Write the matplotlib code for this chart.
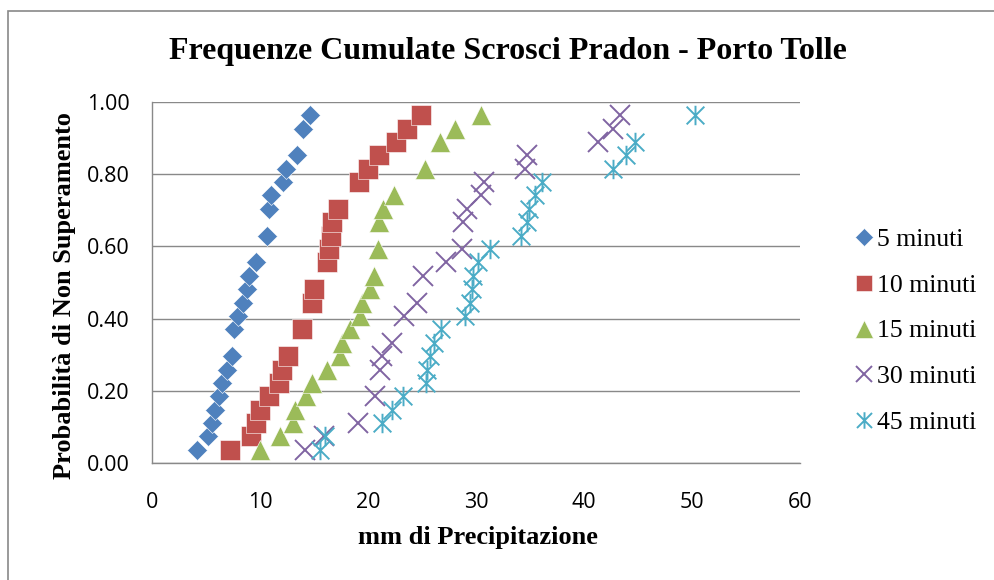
import matplotlib
matplotlib.use("Agg")
import matplotlib.pyplot as plt
from matplotlib.path import Path
from matplotlib.patches import Rectangle

# cumulative frequency of rain bursts, one list pair per duration
x_5min = [4.2, 5.2, 5.6, 5.8, 6.2, 6.5, 6.9, 7.4, 7.6, 8.0, 8.4, 8.8, 9.0, 9.6,
          10.65, 10.8, 11.0, 12.1, 12.4, 13.4, 14.0, 14.66]
y_5min = [0.037, 0.074, 0.111, 0.148, 0.185, 0.222, 0.259, 0.296, 0.370, 0.407,
          0.444, 0.481, 0.519, 0.556, 0.630, 0.704, 0.741, 0.778, 0.815, 0.852,
          0.926, 0.963]

x_10min = [7.2, 9.2, 9.6, 10.0, 10.8, 11.8, 12.0, 12.6, 13.9, 14.85, 15.0, 16.2,
           16.4, 16.6, 16.7, 17.25, 19.2, 20.0, 21.05, 22.6, 23.6, 24.9]
y_10min = [0.037, 0.074, 0.111, 0.148, 0.185, 0.222, 0.259, 0.296, 0.370, 0.444,
           0.481, 0.556, 0.593, 0.630, 0.667, 0.704, 0.778, 0.815, 0.852, 0.889,
           0.926, 0.963]

x_15min = [10.0, 11.85, 13.1, 13.2, 14.3, 14.85, 16.2, 17.4, 17.6, 18.3, 19.3, 19.4,
           20.2, 20.6, 20.9, 21.05, 21.4, 22.4, 25.3, 26.7, 28.05, 30.5]
y_15min = [0.037, 0.074, 0.111, 0.148, 0.185, 0.222, 0.259, 0.296, 0.333, 0.370,
           0.407, 0.444, 0.481, 0.519, 0.593, 0.667, 0.704, 0.741, 0.815, 0.889,
           0.926, 0.963]

x_30min = [14.2, 15.9, 19.1, 20.65, 21.1, 21.3, 22.2, 23.3, 24.5, 25.1, 27.2, 28.7,
           28.8, 29.2, 30.5, 30.7, 34.5, 34.7, 41.3, 42.7, 43.3]
y_30min = [0.037, 0.074, 0.111, 0.185, 0.259, 0.296, 0.333, 0.407, 0.444, 0.519,
           0.556, 0.593, 0.667, 0.704, 0.741, 0.778, 0.815, 0.852, 0.889, 0.926,
           0.963]

x_45min = [15.6, 16.0, 21.3, 22.2, 23.2, 25.4, 25.5, 25.7, 26.1, 26.8, 29.0, 29.4,
           29.6, 29.75, 30.2, 31.3, 34.2, 34.7, 34.9, 35.5, 36.1, 42.7, 43.9, 44.7,
           50.3]
y_45min = [0.037, 0.074, 0.111, 0.148, 0.185, 0.222, 0.259, 0.296, 0.333, 0.370,
           0.407, 0.444, 0.481, 0.519, 0.556, 0.593, 0.630, 0.667, 0.704, 0.741,
           0.778, 0.815, 0.852, 0.889, 0.963]

labels = ["5 minuti", "10 minuti", "15 minuti", "30 minuti", "45 minuti"]
colors = ["#4F81BD", "#C0504D", "#9BBB59", "#8064A2", "#4BACC6"]

# x with a vertical stroke, like the spreadsheet "star" marker
star = Path([(-0.5, -0.5), (0.5, 0.5), (-0.5, 0.5), (0.5, -0.5), (0, -0.55), (0, 0.55)],
            [Path.MOVETO, Path.LINETO, Path.MOVETO, Path.LINETO, Path.MOVETO, Path.LINETO])

grey = "#898989"
serif = "Liberation Serif"
sans = "Open Sans"

fig = plt.figure(figsize=(9.94, 5.8), dpi=100)
ax = fig.add_axes([152 / 994, 1 - 463 / 580, 648 / 994, 361 / 580])

ax.plot(x_5min, y_5min, linestyle="none", marker="D", ms=10.3,
        color=colors[0], mec="white", mew=0.4, label=labels[0])
ax.plot(x_10min, y_10min, linestyle="none", marker="s", ms=14,
        color=colors[1], mec="white", mew=0.4, label=labels[1])
ax.plot(x_15min, y_15min, linestyle="none", marker="^", ms=14.5,
        color=colors[2], mec="white", mew=0.4, label=labels[2])
ax.plot(x_30min, y_30min, linestyle="none", marker="x", ms=14,
        color=colors[3], mew=1.4, label=labels[3])
ax.plot(x_45min, y_45min, linestyle="none", marker=star, ms=14,
        mfc="none", mec=colors[4], mew=1.4, label=labels[4])

ax.set_xlim(0, 60)
ax.set_ylim(0, 1)
ax.set_xticks(range(0, 61, 10))
ax.set_yticks([0, 0.2, 0.4, 0.6, 0.8, 1.0])
ax.set_yticklabels(["0.00", "0.20", "0.40", "0.60", "0.80", "1.00"])
ax.tick_params(axis="both", length=0, labelsize=15.5)
ax.tick_params(axis="y", pad=16)
ax.tick_params(axis="x", pad=21)
for lab in ax.get_xticklabels() + ax.get_yticklabels():
    lab.set_fontfamily(sans)

ax.grid(axis="y", color=grey, linewidth=1.0)
ax.set_axisbelow(True)
for side in ["top", "right"]:
    ax.spines[side].set_visible(False)
for side in ["left", "bottom"]:
    ax.spines[side].set_color(grey)
    ax.spines[side].set_linewidth(1.0)

ax.set_xlabel("mm di Precipitazione", fontsize=19, fontweight="bold", fontfamily=serif)
ax.set_ylabel("Probabilità di Non Superamento", fontsize=19, fontweight="bold",
              fontfamily=serif)
ax.xaxis.set_label_coords(0.503, -0.175)
ax.yaxis.set_label_coords(-0.118, 0.465)

fig.text(508 / 994, 1 - 52 / 580, "Frequenze Cumulate Scrosci Pradon - Porto Tolle",
         ha="center", va="center", fontsize=23, fontweight="bold", fontfamily=serif)

ax.legend(loc="center left", bbox_to_anchor=(854 / 994, 1 - 331 / 580),
          bbox_transform=fig.transFigure, frameon=False, handlelength=0.75,
          handletextpad=0.15, labelspacing=0.88, borderaxespad=0, borderpad=0,
          prop={"family": serif, "size": 18.5}, markerscale=0.85)

# chart area border
fig.patches.append(Rectangle((8 / 994, -0.05), 1.2, 1.05 - 11 / 580,
                             transform=fig.transFigure, fill=False,
                             edgecolor=grey, linewidth=1.2))

fig.savefig("out.png", dpi=100)
